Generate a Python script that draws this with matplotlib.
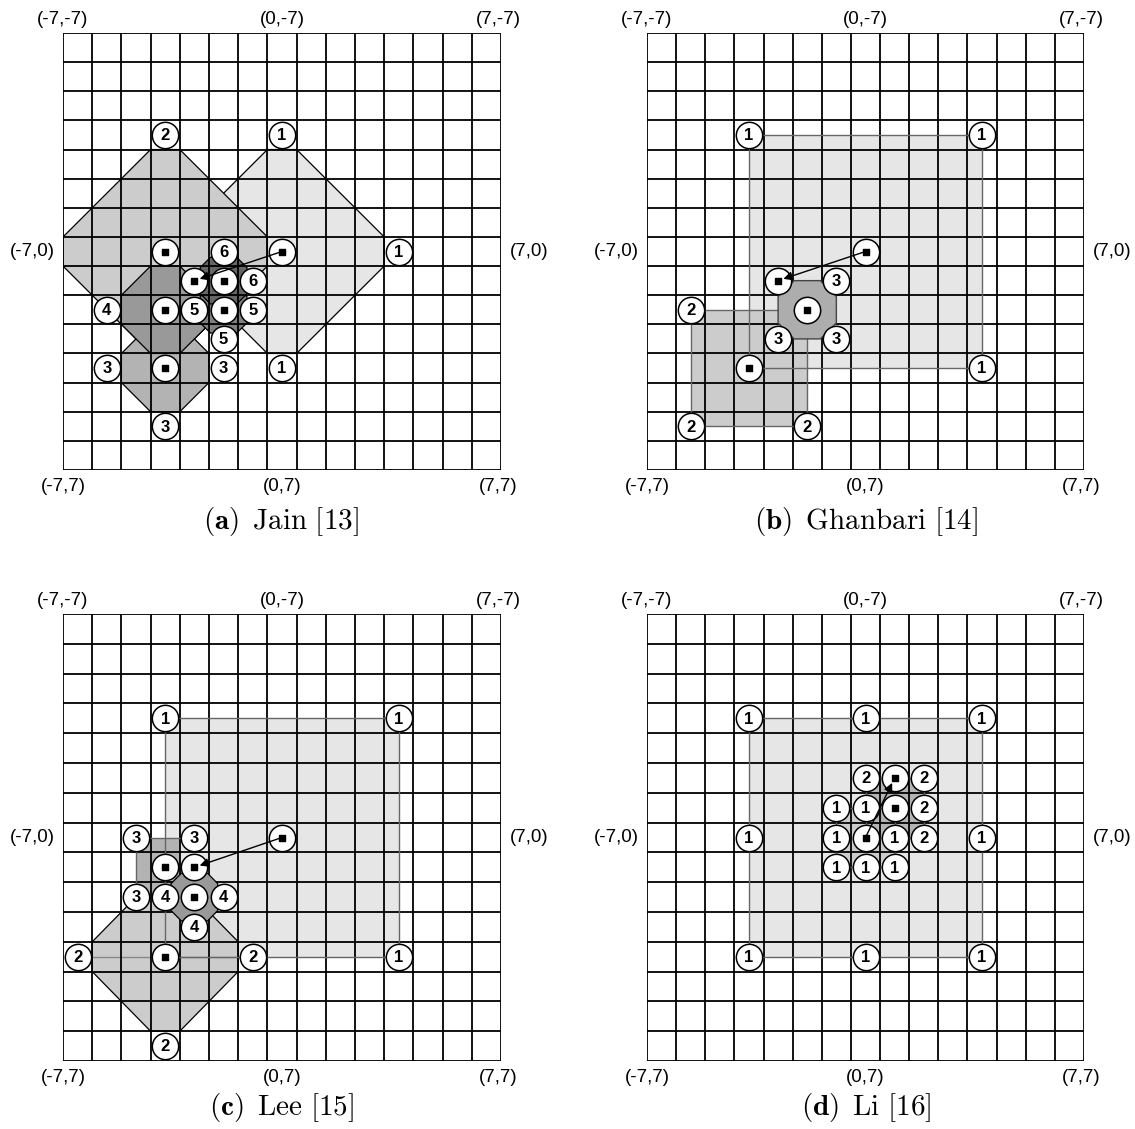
import numpy as np
import matplotlib
matplotlib.use('Agg')
import matplotlib.pyplot as plt
from matplotlib.patches import Polygon

plt.rcParams['mathtext.fontset'] = 'cm'
plt.rcParams['font.family'] = ['Liberation Sans', 'DejaVu Sans']

W, H = 1135, 1129

# grey level used for each search step (step 1 lightest)
step_grays = ['#e6e6e6', '#cccccc', '#b3b3b3', '#999999', '#808080', '#666666']

# ---- (a) Jain: checked points, '' means the chosen point (square) ----
jain_x = [-4, 0, -4, -2, 0, 4, -3, -2, -1, -6, -4, -3, -2, -1, -2, -6, -4, -2, 0, -4]
jain_y = [-4, -4, 0, 0, 0, 0, 1, 1, 1, 2, 2, 2, 2, 2, 3, 4, 4, 4, 4, 6]
jain_lab = ['2', '1', '', '6', '', '1', '', '', '6', '4', '', '5', '', '5', '5', '3', '', '3', '1', '3']
# diamond per step: centre and step size
jain_cx = [0, -4, -4, -4, -2, -2]
jain_cy = [0, 0, 4, 2, 2, 1]
jain_r = [4, 4, 2, 2, 1, 1]
jain_arrow = (0, 0, -3, 1)

# ---- (b) Ghanbari ----
ghan_x = [-4, 4, 0, -3, -1, -2, -3, -1, -6, -4, 4, -6, -2]
ghan_y = [-4, -4, 0, 1, 1, 2, 3, 3, 2, 4, 4, 6, 6]
ghan_lab = ['1', '1', '', '', '3', '', '3', '3', '2', '', '1', '2', '2']
ghan_rects = [(-4, -4, 4, 4), (-6, 2, -2, 6)]
ghan_oct = (-3, 1, -1, 3)
ghan_arrow = (0, 0, -3, 1)

# ---- (c) Lee ----
lee_x = [-4, 4, -5, -3, 0, -4, -3, -5, -4, -3, -2, -3, -7, -4, -1, 4, -4]
lee_y = [-4, -4, 0, 0, 0, 1, 1, 2, 2, 2, 2, 3, 4, 4, 4, 4, 7]
lee_lab = ['1', '1', '3', '3', '', '', '', '3', '4', '', '4', '4', '2', '', '2', '1', '2']
lee_rect1 = (-4, -4, 4, 4)
lee_diamond = (-4, 4, 3)
lee_rect3 = (-5, 0, -3.5, 2)
lee_oct = (-3, 2, 1)
lee_arrow = (0, 0, -3, 1)

# ---- (d) Li ----
li_x = [-4, 0, 4, 0, 1, 2, -1, 0, 1, 2, -4, -1, 0, 1, 2, 4, -1, 0, 1, -4, 0, 4]
li_y = [-4, -4, -4, -2, -2, -2, -1, -1, -1, -1, 0, 0, 0, 0, 0, 0, 1, 1, 1, 4, 4, 4]
li_lab = ['1', '1', '1', '2', '', '2', '1', '1', '', '2', '1', '1', '', '1', '2', '1',
          '1', '1', '1', '1', '1', '1']
li_rects = [(-4, -4, 4, 4), (-1, -1, 1, 1), (0, -2, 2, 0)]
li_arrow = (0, 0, 1, -2)

captions = [r'$\mathbf{(a)}\ \,\mathrm{Jain}\ [13]$', r'$\mathbf{(b)}\ \,\mathrm{Ghanbari}\ [14]$',
            r'$\mathbf{(c)}\ \,\mathrm{Lee}\ [15]$', r'$\mathbf{(d)}\ \,\mathrm{Li}\ [16]$']


def make_ax(left, top, w, h):
    ax = plt.gcf().add_axes([left / W, 1 - (top + h) / H, w / W, h / H])
    ax.set_xlim(-7.5, 7.5)
    ax.set_ylim(7.5, -7.5)
    ax.axis('off')
    return ax


def draw_grid(ax, z=3):
    ticks = np.arange(-7.5, 8.0, 1.0)
    ax.vlines(ticks, -7.5, 7.5, colors='black', lw=1.3, zorder=z)
    ax.hlines(ticks, -7.5, 7.5, colors='black', lw=1.3, zorder=z)
    fs = 13.5
    ax.annotate('(-7,-7)', (-7.5, -7.5), xytext=(0, 10), textcoords='offset points', ha='center', va='center', fontsize=fs)
    ax.annotate('(0,-7)', (0, -7.5), xytext=(0, 10), textcoords='offset points', ha='center', va='center', fontsize=fs)
    ax.annotate('(7,-7)', (7.5, -7.5), xytext=(-2, 10), textcoords='offset points', ha='center', va='center', fontsize=fs)
    ax.annotate('(-7,0)', (-7.5, 0), xytext=(-22, 0), textcoords='offset points', ha='center', va='center', fontsize=fs)
    ax.annotate('(7,0)', (7.5, 0), xytext=(20, 0), textcoords='offset points', ha='center', va='center', fontsize=fs)
    ax.annotate('(-7,7)', (-7.5, 7.5), xytext=(0, -12), textcoords='offset points', ha='center', va='center', fontsize=fs)
    ax.annotate('(0,7)', (0, 7.5), xytext=(0, -12), textcoords='offset points', ha='center', va='center', fontsize=fs)
    ax.annotate('(7,7)', (7.5, 7.5), xytext=(-2, -12), textcoords='offset points', ha='center', va='center', fontsize=fs)


def diamond(cx, cy, r):
    if r == 1:
        h, s = 0.8, 0.45
    else:
        h, s = r - 0.5, 0.5
    return [(cx - s, cy - h), (cx + s, cy - h), (cx + h, cy - s), (cx + h, cy + s),
            (cx + s, cy + h), (cx - s, cy + h), (cx - h, cy + s), (cx - h, cy - s)]


def octagon(x0, y0, x1, y1, c=0.55):
    return [(x0 + c, y0), (x1 - c, y0), (x1, y0 + c), (x1, y1 - c),
            (x1 - c, y1), (x0 + c, y1), (x0, y1 - c), (x0, y0 + c)]


def rect(ax, box, color, z=1, edge='#666666', alpha=1.0):
    x0, y0, x1, y1 = box
    pts = [(x0, y0), (x1, y0), (x1, y1), (x0, y1)]
    ax.add_patch(Polygon(pts, closed=True, facecolor=color, edgecolor='none', alpha=alpha, zorder=z))
    ax.add_patch(Polygon(pts, closed=True, facecolor='none', edgecolor=edge, lw=1.0, zorder=3.5))


def draw_points(ax, xs, ys, labs, arrow):
    ax.scatter(xs, ys, s=360, facecolor='white', edgecolor='black', linewidth=1.1, zorder=5)
    for x, y, lab in zip(xs, ys, labs):
        if lab == '':
            ax.scatter([x], [y], s=22, marker='s', color='black', zorder=6)
        else:
            ax.text(x, y + 0.03, lab, ha='center', va='center', fontsize=12, fontweight='bold', zorder=6)
    x0, y0, x1, y1 = arrow
    ax.annotate('', xy=(x1, y1), xytext=(x0, y0),
                arrowprops=dict(arrowstyle='-|>', color='black', lw=1.0, mutation_scale=13,
                                shrinkA=0, shrinkB=4), zorder=7)


fig = plt.figure(figsize=(W / 100, H / 100), dpi=100)

# (a)
ax = make_ax(63, 33, 438, 437)
draw_grid(ax)
for i, (cx, cy, r) in enumerate(zip(jain_cx, jain_cy, jain_r)):
    ax.add_patch(Polygon(diamond(cx, cy, r), closed=True, facecolor=step_grays[i],
                         edgecolor='black', lw=0.9, zorder=1 + i * 0.1))
draw_points(ax, jain_x, jain_y, jain_lab, jain_arrow)

# (b)
ax = make_ax(647, 33, 437, 437)
draw_grid(ax)
for i, box in enumerate(ghan_rects):
    rect(ax, box, step_grays[i], z=1 + i * 0.1)
ax.add_patch(Polygon(octagon(*ghan_oct), closed=True, facecolor='#adadad',
                     edgecolor='#444444', lw=1.0, zorder=4))
draw_points(ax, ghan_x, ghan_y, ghan_lab, ghan_arrow)

# (c)
ax = make_ax(63, 614, 438, 447)
draw_grid(ax)
rect(ax, lee_rect1, step_grays[0], z=1)
ax.add_patch(Polygon(diamond(*lee_diamond), closed=True, facecolor=step_grays[1],
                     edgecolor='black', lw=0.9, zorder=1.1))
ax.plot([lee_diamond[0] - lee_diamond[2], lee_diamond[0] + lee_diamond[2]],
        [lee_diamond[1], lee_diamond[1]], color='#888888', lw=1.0, zorder=1.15)
x0, y0, x1, y1 = lee_rect3
ax.add_patch(Polygon([(x0, y0), (x1, y0), (x1, y1), (x0, y1)], closed=True,
                     facecolor=step_grays[2], edgecolor='none', zorder=1.2))
ax.plot([x0, -3], [y0, y0], color='#666666', lw=1.0, zorder=3.5)
ax.plot([x0, x0], [y0, y1], color='#666666', lw=1.0, zorder=3.5)
ax.add_patch(Polygon(diamond(*lee_oct), closed=True, facecolor=step_grays[3],
                     edgecolor='black', lw=0.9, zorder=4))
draw_points(ax, lee_x, lee_y, lee_lab, lee_arrow)

# (d)
ax = make_ax(647, 614, 437, 447)
draw_grid(ax)
for i, box in enumerate(li_rects):
    rect(ax, box, step_grays[min(i, 2)], z=1 + i * 0.1)
draw_points(ax, li_x, li_y, li_lab, li_arrow)

cap_pos = [(281, 521), (866, 521), (281, 1107), (866, 1107)]
for (cx, cy), cap in zip(cap_pos, captions):
    fig.text(cx / W, 1 - cy / H, cap, ha='center', va='center', fontsize=21)

fig.savefig('out.png', dpi=100)
